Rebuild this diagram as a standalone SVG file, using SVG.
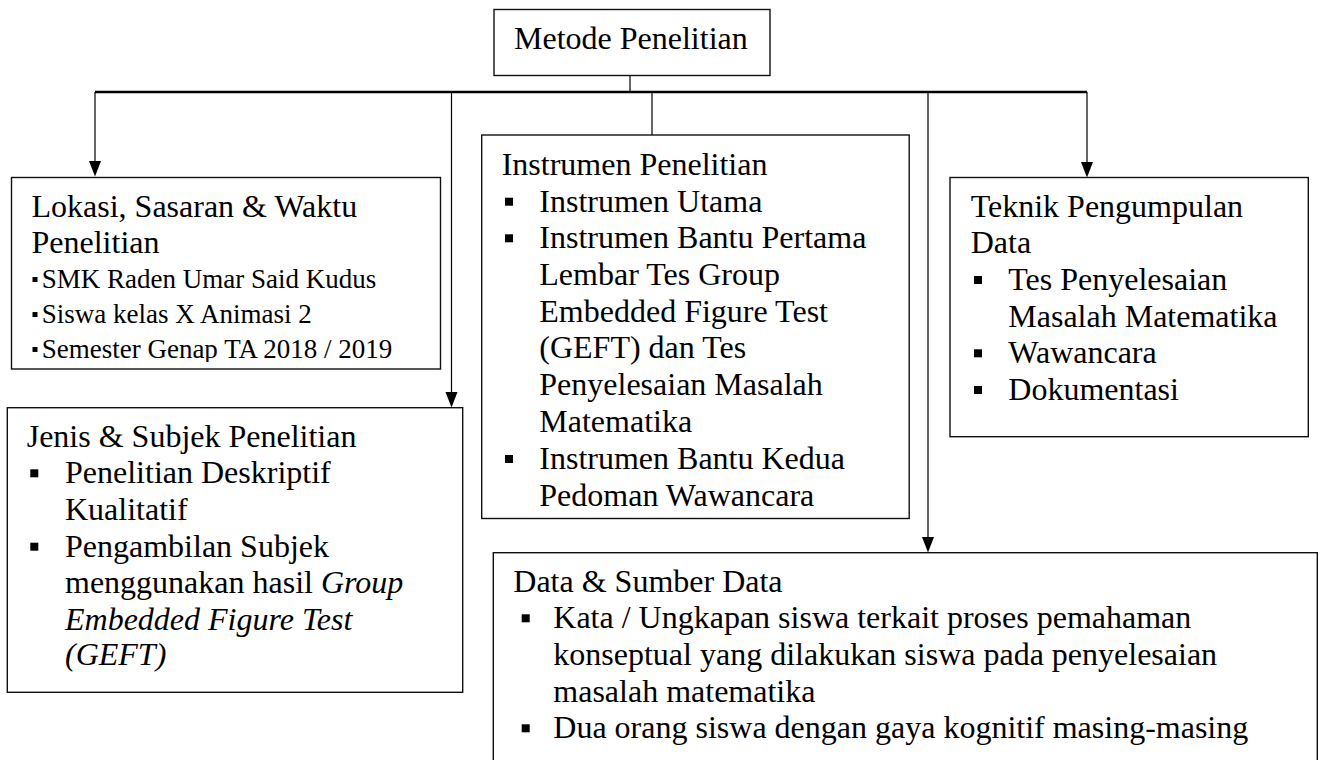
<svg xmlns="http://www.w3.org/2000/svg" width="1321" height="760" viewBox="0 0 1321 760">
<style>
.box{fill:#fff;stroke:#111;stroke-width:1.4}
.t{font-family:"Liberation Serif","Times New Roman",serif;font-size:32px;fill:#000}
.s{font-family:"Liberation Serif","Times New Roman",serif;font-size:27px;fill:#000}
.i{font-style:italic}
.b{fill:#000}
.ln{stroke:#000;stroke-width:1.2;fill:none}
.bus{stroke:#000;stroke-width:2.4;fill:none}
.ah{fill:#000}
</style>
<defs>
<clipPath id="clipLok"><rect x="11" y="177" width="430" height="185"/></clipPath>
</defs>

<g id="connectors">
<line class="ln" x1="630" y1="75" x2="630" y2="92"/>
<line class="bus" x1="95" y1="92" x2="1087" y2="92"/>
<line class="ln" x1="95" y1="92" x2="95" y2="162"/>
<path class="ah" d="M89,161 L101,161 L95,176.5 Z"/>
<line class="ln" x1="451.5" y1="92" x2="451.5" y2="393"/>
<path class="ah" d="M445.5,392 L457.5,392 L451.5,407.5 Z"/>
<line class="ln" x1="652" y1="92" x2="652" y2="135"/>
<line class="ln" x1="928" y1="92" x2="928" y2="538"/>
<path class="ah" d="M922,537 L934,537 L928,552.5 Z"/>
<line class="ln" x1="1087" y1="92" x2="1087" y2="163"/>
<path class="ah" d="M1081,162 L1093,162 L1087,177.5 Z"/>
</g>

<g id="metode">
<rect class="box" x="494" y="9.5" width="276" height="66"/>
<text class="t" x="514" y="49">Metode Penelitian</text>
</g>

<g id="lokasi">
<rect class="box" x="11.5" y="177.5" width="429" height="191.5"/>
<g clip-path="url(#clipLok)">
<text class="t" x="31.5" y="216.7">Lokasi, Sasaran &amp; Waktu</text>
<text class="t" x="31.5" y="253.3">Penelitian</text>
<rect class="b" x="32.5" y="277" width="5" height="5"/>
<text class="s" x="41.7" y="288.3">SMK Raden Umar Said Kudus</text>
<rect class="b" x="32.5" y="312" width="5" height="5"/>
<text class="s" x="41.7" y="323.3">Siswa kelas X Animasi 2</text>
<rect class="b" x="32.5" y="347" width="5" height="5"/>
<text class="s" x="41.7" y="358.3">Semester Genap TA 2018 / 2019</text>
</g>
</g>

<g id="instrumen">
<rect class="box" x="481.7" y="135" width="427.5" height="383.5"/>
<text class="t" x="501.7" y="175">Instrumen Penelitian</text>
<rect class="b" x="505" y="197.7" width="8" height="8"/>
<text class="t" x="539.3" y="211.7">Instrumen Utama</text>
<rect class="b" x="505" y="234.3" width="8" height="8"/>
<text class="t" x="539.3" y="248.3">Instrumen Bantu Pertama</text>
<text class="t" x="539.3" y="285">Lembar Tes Group</text>
<text class="t" x="539.3" y="321.7">Embedded Figure Test</text>
<text class="t" x="539.3" y="358.3">(GEFT) dan Tes</text>
<text class="t" x="539.3" y="395">Penyelesaian Masalah</text>
<text class="t" x="539.3" y="431.7">Matematika</text>
<rect class="b" x="505" y="455" width="8" height="8"/>
<text class="t" x="539.3" y="469">Instrumen Bantu Kedua</text>
<text class="t" x="539.3" y="505.7">Pedoman Wawancara</text>
</g>

<g id="teknik">
<rect class="box" x="950" y="177.5" width="358.3" height="259.2"/>
<text class="t" x="970.7" y="216.7">Teknik Pengumpulan</text>
<text class="t" x="970.7" y="253.3">Data</text>
<rect class="b" x="974" y="276" width="8" height="8"/>
<text class="t" x="1008.3" y="290">Tes Penyelesaian</text>
<text class="t" x="1008.3" y="326.7">Masalah Matematika</text>
<rect class="b" x="974" y="349.3" width="8" height="8"/>
<text class="t" x="1008.3" y="363.3">Wawancara</text>
<rect class="b" x="974" y="386" width="8" height="8"/>
<text class="t" x="1008.3" y="400">Dokumentasi</text>
</g>

<g id="jenis">
<rect class="box" x="7.3" y="407.7" width="455.4" height="284.6"/>
<text class="t" x="26.7" y="446.7">Jenis &amp; Subjek Penelitian</text>
<rect class="b" x="30.3" y="469.3" width="8" height="8"/>
<text class="t" x="65" y="483.3">Penelitian Deskriptif</text>
<text class="t" x="65" y="520">Kualitatif</text>
<rect class="b" x="30.3" y="542.7" width="8" height="8"/>
<text class="t" x="65" y="556.7">Pengambilan Subjek</text>
<text class="t" x="65" y="593.3">menggunakan hasil <tspan class="i">Group</tspan></text>
<text class="t i" x="65" y="630">Embedded Figure Test</text>
<text class="t i" x="65" y="665">(GEFT)</text>
</g>

<g id="data">
<rect class="box" x="493.3" y="552.7" width="824" height="240"/>
<text class="t" x="513.3" y="591.7">Data &amp; Sumber Data</text>
<rect class="b" x="521.7" y="614.3" width="8" height="8"/>
<text class="t" x="553.3" y="628.3">Kata / Ungkapan siswa terkait proses pemahaman</text>
<text class="t" x="553.3" y="665">konseptual yang dilakukan siswa pada penyelesaian</text>
<text class="t" x="553.3" y="701.7">masalah matematika</text>
<rect class="b" x="521.7" y="724.3" width="8" height="8"/>
<text class="t" x="553.3" y="738.3">Dua orang siswa dengan gaya kognitif masing-masing</text>
</g>
</svg>
